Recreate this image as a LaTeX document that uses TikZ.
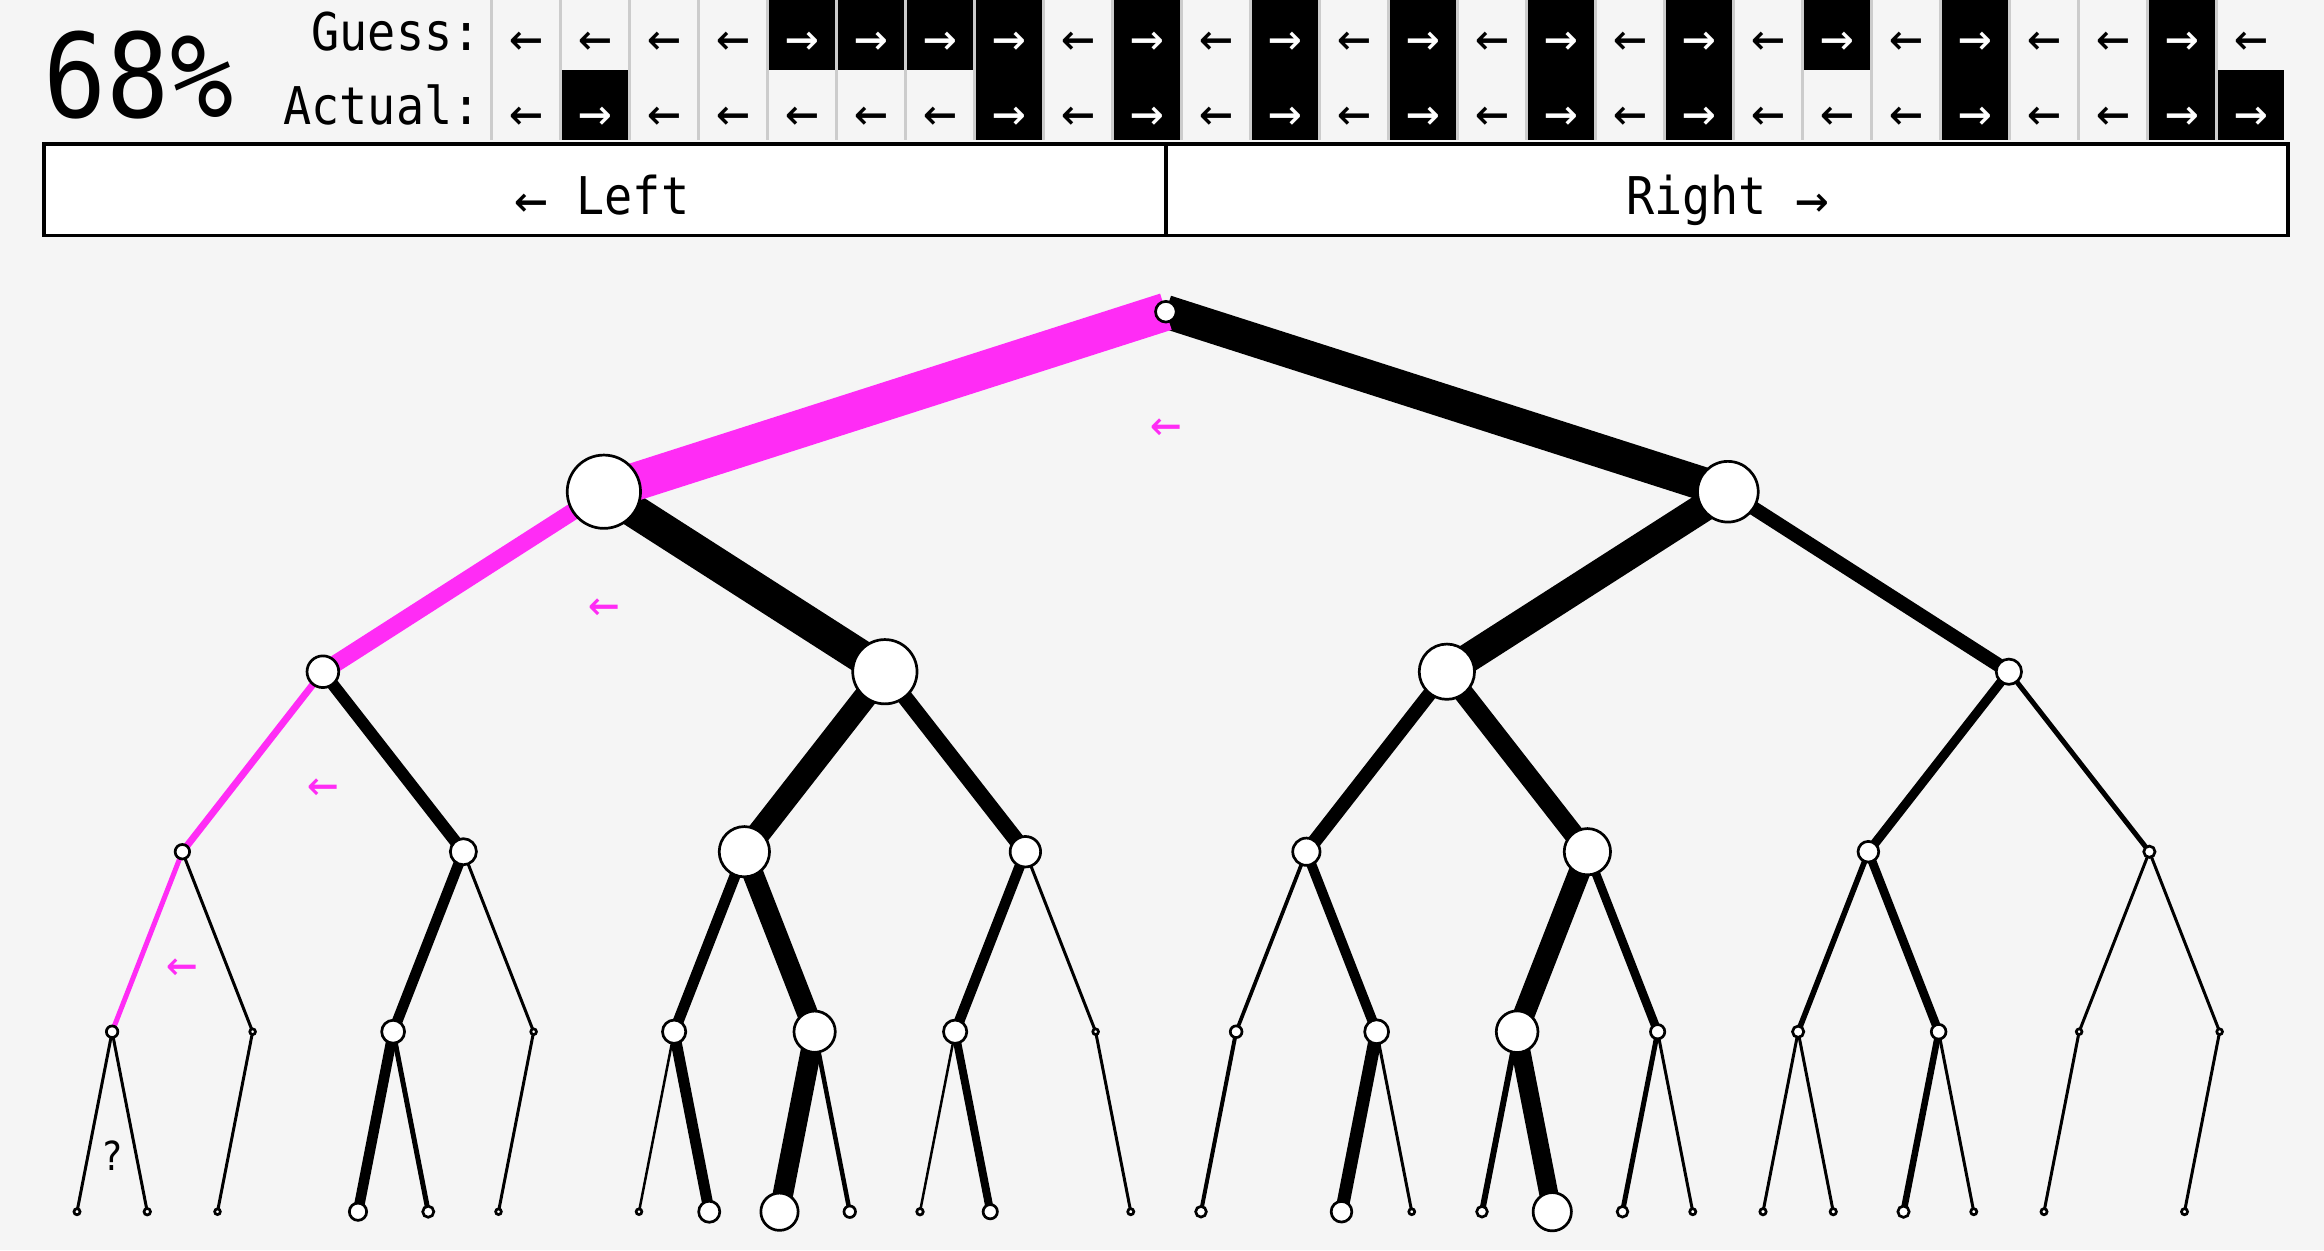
\documentclass[tikz,border=0pt]{standalone}
\usepackage{fontspec}
\newfontfamily\monof[FakeStretch=0.9]{DejaVu Sans Mono}
\newfontfamily\arrf{DejaVu Sans Mono}
\definecolor{bgc}{RGB}{245,245,245}
\definecolor{pinkc}{RGB}{255,44,245}
\definecolor{sepc}{RGB}{204,204,204}
\pgfdeclarelayer{back}
\pgfdeclarelayer{edges}
\pgfsetlayers{back,edges,main}
\tikzset{
  txt/.style={inner sep=0pt, font=\monof\fontsize{26}{30}\selectfont},
  arr/.style={inner sep=0pt, anchor=base, font=\arrf\fontsize{28}{30}\selectfont},
  cellbox/.style={rectangle, inner sep=0pt, minimum width=33pt, minimum height=35pt, draw=none, fill=black},
  btn/.style={rectangle, draw=black, fill=white, line width=1.75pt, inner sep=0pt, minimum height=45.75pt},
  tn/.style={circle, draw=black, fill=white, line width=1.35pt, inner sep=0pt},
  parr/.style={inner sep=0pt, anchor=base, text=pinkc, font=\arrf\fontsize{26}{28}\selectfont},
}
\newcommand\tnode[4]{\pgfmathsetmacro\tdd{(2*#4-2.7)*0.5}\node[tn, minimum size=\tdd pt] (#1) at ({#2},{#3}) {};}
\newcommand\barr[1]{\raisebox{-2.3pt}{\arrf\fontsize{28}{30}\selectfont #1}}
\begin{document}
\begin{tikzpicture}[x=0.5pt,y=-0.5pt]
\begin{pgfonlayer}{back}
\fill[bgc] (0,0) rectangle (2324,1250);
\end{pgfonlayer}
\useasboundingbox (0,0) rectangle (2324,1250);

% ---------- header ----------
\node[inner sep=0pt, anchor=base, font=\monof\fontsize{58.3}{62}\selectfont] (pct) at (138.5,117) {68\%};
\node[txt, anchor=base east] (guesslbl) at (481,50.7) {Guess:};
\node[txt, anchor=base east] (actuallbl) at (481,124) {Actual:};
\foreach \k in {0,...,25} \fill[sepc] ({490+69*\k},0) rectangle ({493+69*\k},140);
\foreach \g [count=\k from 0] in {0,0,0,0,1,1,1,1,0,1,0,1,0,1,0,1,0,1,0,1,0,1,0,0,1,0}{
  \ifnum\g=1
    \node[cellbox] (gc\k) at ({526+69*\k},35) {};
    \node[arr, text=white] (ga\k) at ({526+69*\k},56.9) {→};
  \else
    \node[arr] (ga\k) at ({526+69*\k},56.9) {←};
  \fi
}
\foreach \g [count=\k from 0] in {0,1,0,0,0,0,0,1,0,1,0,1,0,1,0,1,0,1,0,0,0,1,0,0,1,1}{
  \ifnum\g=1
    \node[cellbox] (ac\k) at ({526+69*\k},105) {};
    \node[arr, text=white] (aa\k) at ({526+69*\k},131.3) {→};
  \else
    \node[arr] (aa\k) at ({526+69*\k},131.3) {←};
  \fi
}

% ---------- buttons ----------
\node[btn, minimum width=561.125pt] (leftbtn) at (604.875,189.5) {};
\node[btn, minimum width=560.875pt] (rightbtn) at (1726.875,189.5) {};
\node[txt, anchor=base] (lefttxt) at (602,214) {\barr{←} Left};
\node[txt, anchor=base] (righttxt) at (1727.5,214) {Right \barr{→}};

% ---------- tree nodes ----------
\tnode{n}{1165.875}{311.7}{11.7}
\tnode{a0}{603.875}{491.7}{38}
\tnode{a1}{1727.875}{491.7}{31.7}
\foreach \j/\r in {0/17.2,1/33.5,2/29,3/14}{\tnode{b\j}{322.875+562*\j}{671.7}{\r}}
\foreach \j/\r in {0/8.6,1/14.4,2/26.5,3/16.6,4/15,5/24.5,6/11.7,7/7}{\tnode{c\j}{182.375+281*\j}{851.7}{\r}}
\foreach \j/\r in {0/7.1,1/4.2,2/12.8,3/4.2,4/13,5/22,6/13,7/4.2,8/7.2,9/13.3,10/22.2,11/8.5,12/7,13/8.7,14/4.2,15/4.2}{\tnode{d\j}{112.125+140.5*\j}{1031.7}{\r}}
\foreach \j/\r in {0/4.4,1/4.6,2/4.2,4/10,5/6.9,6/4.2,8/4.2,9/11.9,10/20,11/7.1,12/4.6,13/8.5,15/4.4,16/6.7,18/11.7,19/4.3,20/6.7,21/20.5,22/6.7,23/4.4,24/4.5,25/4.5,26/7,27/4.4,28/4.4,30/4.4}{\tnode{e\j}{77+70.25*\j}{1211.7}{\r}}

% ---------- tree edges ----------
\begin{pgfonlayer}{edges}
\foreach \p/\c/\w in {n/a1/33.5,
  a0/b1/33, a1/b2/29, a1/b3/14,
  b0/c1/12, b1/c2/23.6, b1/c3/15.8, b2/c4/14, b2/c5/20, b3/c6/9.2, b3/c7/5,
  c0/d1/3, c1/d2/10.7, c1/d3/3, c2/d4/11, c2/d5/21, c3/d6/10.5, c3/d7/3, c4/d8/3.7, c4/d9/10, c5/d10/21.7, c5/d11/8.7, c6/d12/5.6, c6/d13/8.7, c7/d14/3, c7/d15/3,
  d0/e0/3, d0/e1/3, d1/e2/3, d2/e4/10.5, d2/e5/5, d3/e6/3, d4/e8/2.5, d4/e9/11, d5/e10/20.5, d5/e11/4.5, d6/e12/2.5, d6/e13/8, d7/e15/3, d8/e16/4, d9/e18/13, d9/e19/3, d10/e20/6, d10/e21/19, d11/e22/5, d11/e23/3, d12/e24/3, d12/e25/3, d13/e26/6.5, d13/e27/3, d14/e28/3, d15/e30/3}{
  \pgfmathsetmacro\lw{\w*0.5}
  \draw[line width=\lw pt] (\p.center) -- (\c.center);
}
\foreach \p/\c/\w in {n/a0/38, a0/b0/17, b0/c0/7, c0/d0/5}{
  \pgfmathsetmacro\lw{\w*0.5}
  \draw[pinkc, line width=\lw pt] (\p.center) -- (\c.center);
}
\end{pgfonlayer}

% ---------- path markers ----------
\node[parr] (pa0) at (1165.875,441.7) {←};
\node[parr] (pa1) at (603.875,621.7) {←};
\node[parr] (pa2) at (322.875,801.7) {←};
\node[parr] (pa3) at (182.375,981.7) {←};
\node[inner sep=0pt, anchor=base, font=\monof\fontsize{20}{24}\selectfont] (qm) at (112.5,1170) {?};
\end{tikzpicture}
\end{document}
